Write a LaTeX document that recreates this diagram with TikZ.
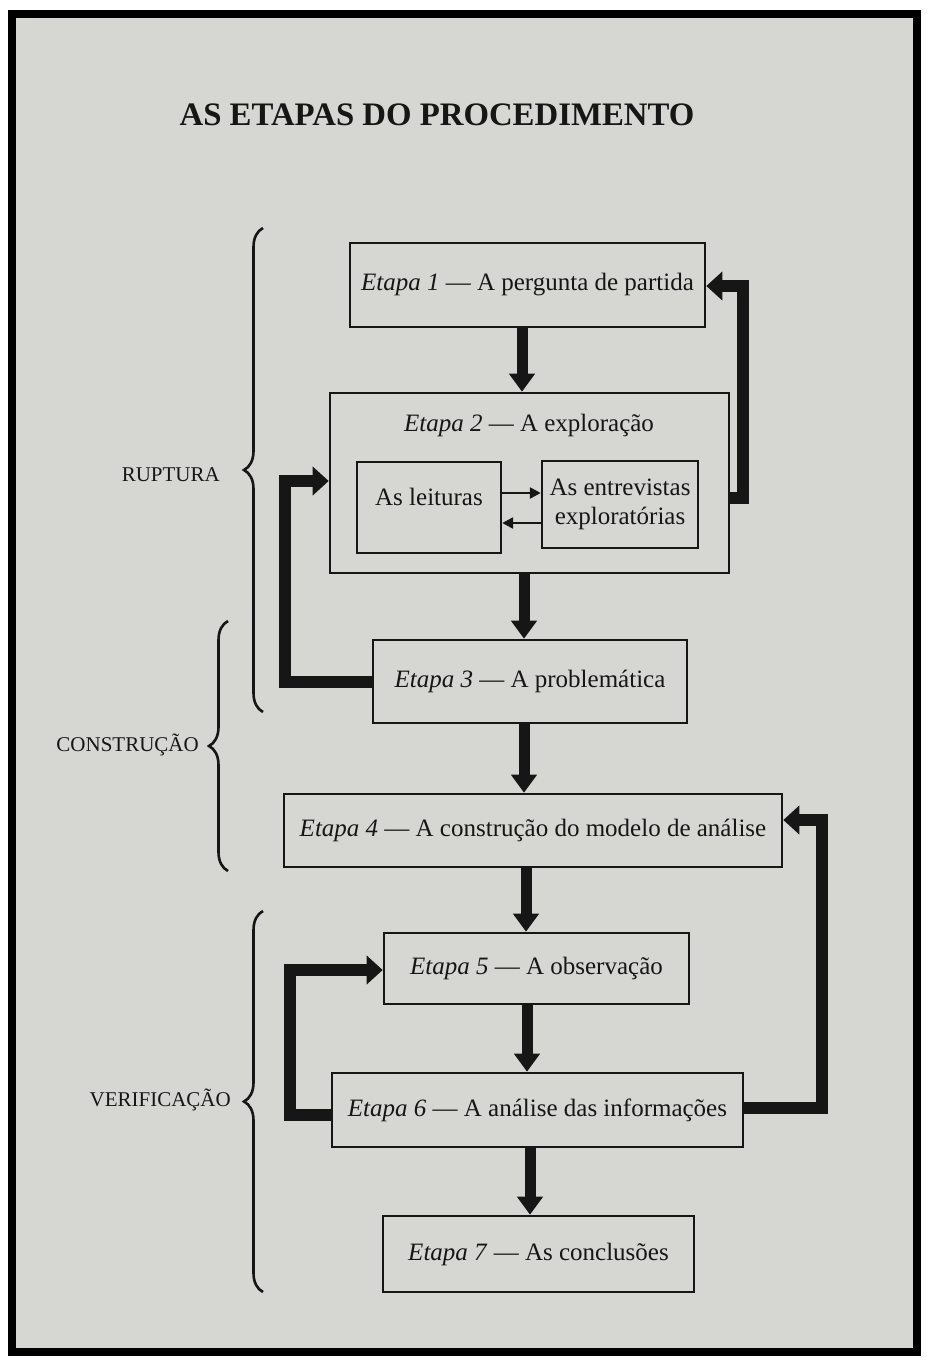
\documentclass[tikz,border=0pt]{standalone}
\usepackage{fontspec}
\setmainfont{Liberation Serif}
\usetikzlibrary{arrows.meta,decorations.pathreplacing}
\definecolor{paper}{RGB}{214,214,211}
\definecolor{ink}{RGB}{22,22,22}
\tikzset{
  stagebox/.style={draw=ink, line width=2.6pt, rectangle, inner sep=0pt,
    font=\fontsize{25}{29}\selectfont, text=ink},
  innerbox/.style={draw=ink, line width=2.4pt, rectangle, inner sep=0pt,
    font=\fontsize{25}{29}\selectfont, text=ink, align=center},
  plaintext/.style={inner sep=0pt, font=\fontsize{25}{29}\selectfont, text=ink, align=center},
  phaselabel/.style={inner sep=0pt, font=\fontsize{21}{25}\selectfont, text=ink, anchor=east},
  downarrow/.style={draw=ink, line width=11pt, -{Triangle[width=25pt,length=18pt]}},
  looparrow/.style={draw=ink, line width=12pt, line join=miter, -{Triangle[width=28pt,length=16pt]}},
  smallarrow/.style={draw=ink, line width=2.4pt, -{Triangle[width=11pt,length=11pt]}},
  phasebrace/.style={draw=ink, line width=2.6pt, decorate, decoration={brace, amplitude=19pt}},
}
\begin{document}
\begin{tikzpicture}[x=1pt,y=-1pt]
\useasboundingbox (0,0) rectangle (927,1363);
\fill[white] (0,0) rectangle (927,1363);
\fill[paper] (12,14) rectangle (917,1352);
\draw[black, line width=8pt] (12,14) rectangle (917,1352);

% title
\node[inner sep=0pt, font=\fontsize{32.8}{36}\selectfont\bfseries, text=ink] (title) at (437,115) {AS ETAPAS DO PROCEDIMENTO};

% stage boxes
\node[stagebox, minimum width=355pt, minimum height=84pt] (b1) at (527.5,285) {\textit{Etapa 1} — A pergunta de partida};
\node[stagebox, minimum width=399pt, minimum height=180pt] (b2) at (529.5,483) {};
\node[plaintext] (b2t) at (529,425) {\textit{Etapa 2} — A exploração};
\node[innerbox, minimum width=144pt, minimum height=91pt] (leit) at (429,507.5) {};
\node[plaintext] (leitt) at (429,497) {As leituras};
\node[innerbox, minimum width=156pt, minimum height=87pt] (entr) at (620,504.5) {As entrevistas\\exploratórias};
\node[stagebox, minimum width=314pt, minimum height=83pt] (b3) at (530,681.5) {\textit{Etapa 3} — A problemática};
\node[stagebox, minimum width=498pt, minimum height=73pt] (b4) at (533,830.5) {\textit{Etapa 4} — A construção do modelo de análise};
\node[stagebox, minimum width=305pt, minimum height=71pt] (b5) at (536.5,968.5) {\textit{Etapa 5} — A observação};
\node[stagebox, minimum width=411pt, minimum height=74pt] (b6) at (537.5,1110) {\textit{Etapa 6} — A análise das informações};
\node[stagebox, minimum width=311pt, minimum height=76pt] (b7) at (538.5,1254) {\textit{Etapa 7} — As conclusões};

% small arrows between inner boxes
\draw[smallarrow] (leit.east |- 0,493) -- (entr.west |- 0,493);
\draw[smallarrow] (entr.west |- 0,523) -- (leit.east |- 0,523);

% main downward arrows
\draw[downarrow] (b1.south -| 522,0) -- (b2.north -| 522,0);
\draw[downarrow] (b2.south -| 524,0) -- (b3.north -| 524,0);
\draw[downarrow] (b3.south -| 524,0) -- (b4.north -| 524,0);
\draw[downarrow] (b4.south -| 526,0) -- (b5.north -| 526,0);
\draw[downarrow] (b5.south -| 527,0) -- (b6.north -| 527,0);
\draw[downarrow] (b6.south -| 530,0) -- (b7.north -| 530,0);

% feedback loops
\coordinate (ra) at (743,498);
\coordinate (rb) at (743,286);
\draw[looparrow] (b2.east |- ra) -- (ra) -- (rb) -- (b1.east |- rb);

\coordinate (la) at (285,682);
\coordinate (lb) at (285,481);
\draw[looparrow] (b3.west |- la) -- (la) -- (lb) -- (b2.west |- lb);

\coordinate (rc) at (822,1108);
\coordinate (rd) at (822,820);
\draw[looparrow] (b6.east |- rc) -- (rc) -- (rd) -- (b4.east |- rd);

\coordinate (lc) at (290,1115);
\coordinate (ld) at (290,970);
\draw[looparrow] (b6.west |- lc) -- (lc) -- (ld) -- (b5.west |- ld);

% braces and phase labels
\coordinate (rupB) at (263,712);
\coordinate (rupT) at (263,228);
\draw[phasebrace] (rupB) -- (rupT);
\node[phaselabel] (rup) at (220,475) {RUPTURA};

\coordinate (conB) at (228,871);
\coordinate (conT) at (228,621);
\draw[phasebrace] (conB) -- (conT);
\node[phaselabel] (con) at (199,745) {CONSTRUÇÃO};

\coordinate (verB) at (263,1292);
\coordinate (verT) at (263,911);
\draw[phasebrace] (verB) -- (verT);
\node[phaselabel] (ver) at (231,1100) {VERIFICAÇÃO};
\end{tikzpicture}
\end{document}
